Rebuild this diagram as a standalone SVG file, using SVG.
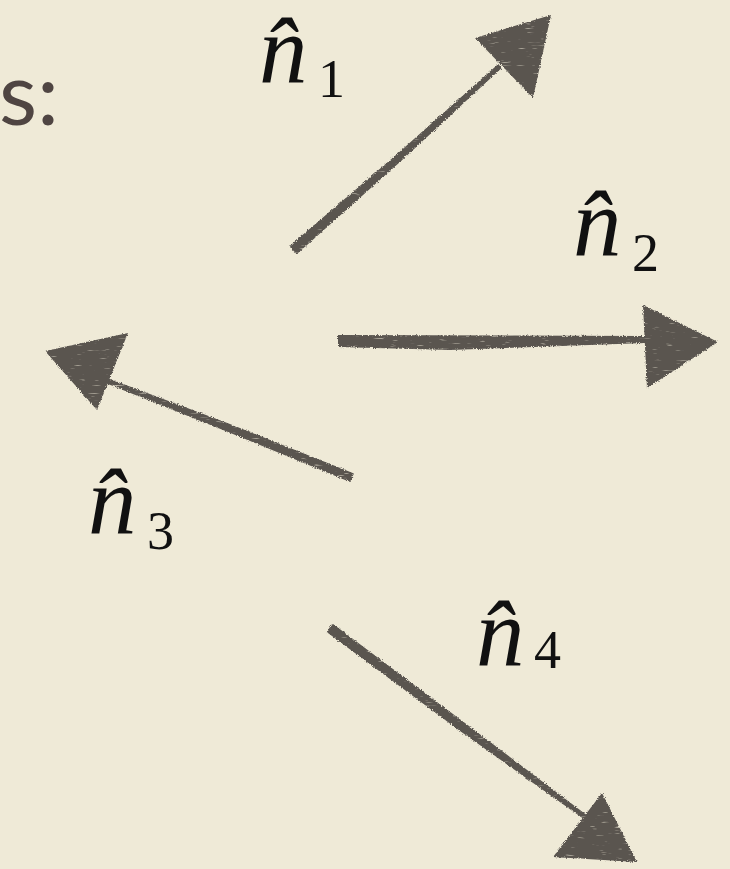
<svg xmlns="http://www.w3.org/2000/svg" width="730" height="869" viewBox="0 0 730 869">
  <defs>
    <filter id="rough" x="-10%" y="-10%" width="120%" height="120%">
      <feTurbulence type="fractalNoise" baseFrequency="0.8" numOctaves="2" seed="3" result="noise"/>
      <feDisplacementMap in="SourceGraphic" in2="noise" scale="3.5" xChannelSelector="R" yChannelSelector="G" result="disp"/>
      <feTurbulence type="fractalNoise" baseFrequency="0.08 0.6" numOctaves="2" seed="7" result="streak"/>
      <feColorMatrix in="streak" type="matrix" values="0 0 0 0 0  0 0 0 0 0  0 0 0 0 0  0 0 0 -3 3.05" result="mask"/>
      <feComposite in="disp" in2="mask" operator="in"/>
    </filter>
    <style>
      .bg { fill: #efead7; }
      .ink { fill: #5a5550; }
      .math { font-family: "Liberation Serif", "DejaVu Serif", serif; fill: #111; }
      .var { font-style: italic; font-size: 97px; }
      .sub { font-size: 54px; font-style: normal; }
      .title { font-family: Lato, "Open Sans", sans-serif; font-size: 88px; fill: #4f4542; }
    </style>
  </defs>
  <rect class="bg" x="0" y="0" width="730" height="869"/>

  <g id="heading">
    <text class="title" x="59" y="125" text-anchor="end">s:</text>
  </g>

  <g id="connectors" filter="url(#rough)">
    <g id="arrow-n1">
      <polygon class="ink" points="296.7,254.2 400,162 501.7,67.9 498.3,64.1 396,155 289.3,246.2"/>
      <polygon class="ink" points="475,38 551,15 533,98"/>
    </g>
    <g id="arrow-n2">
      <polygon class="ink" points="338,335 645,336 645,343 450,350 338,347"/>
      <polygon class="ink" points="643,305 718,342 647,388"/>
    </g>
    <g id="arrow-n3">
      <polygon class="ink" points="354,473.5 230,424 105.9,377.4 104.1,382.6 228,432 350,482"/>
      <polygon class="ink" points="45,351 128,333 97,410"/>
    </g>
    <g id="arrow-n4">
      <polygon class="ink" points="326.6,632 460,731 590.8,824 593.2,820 465,723 332.4,623.5"/>
      <polygon class="ink" points="602,793 637,862 553,857"/>
    </g>
  </g>

  <g id="label-n1" class="math">
    <text class="var" x="259" y="82">n̂<tspan class="sub" x="318" y="97">1</tspan></text>
  </g>
  <g id="label-n2" class="math">
    <text class="var" x="573" y="255">n̂<tspan class="sub" x="632" y="271">2</tspan></text>
  </g>
  <g id="label-n3" class="math">
    <text class="var" x="88" y="533">n̂<tspan class="sub" x="147" y="549">3</tspan></text>
  </g>
  <g id="label-n4" class="math">
    <text class="var" x="476" y="665">n̂<tspan class="sub" x="534" y="668">4</tspan></text>
  </g>
</svg>
